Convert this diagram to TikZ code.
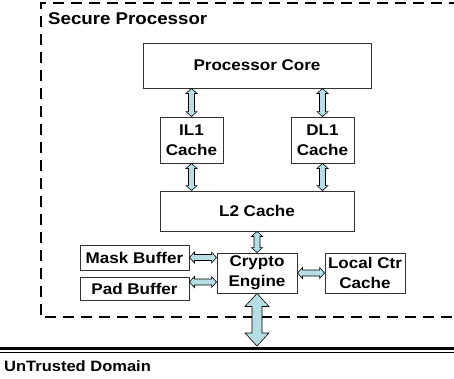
\documentclass[tikz,border=0pt]{standalone}
\usepackage{fontspec}
\setmainfont{Liberation Sans}[FakeStretch=1.1]
\usetikzlibrary{calc}
\definecolor{pipefill}{RGB}{183,222,228}
\definecolor{boxline}{RGB}{50,50,50}

% vertical double-headed block arrow between two anchors (same x)
\newcommand\vpipe[5]{% top, bottom, shaft half width, head half width, head length
  \draw[pipe] let \p1=(#1), \p2=(#2) in
    (\x1,\y1) -- (\x1+#4,\y1-#5) -- (\x1+#3,\y1-#5) -- (\x1+#3,\y2+#5)
    -- (\x1+#4,\y2+#5) -- (\x1,\y2) -- (\x1-#4,\y2+#5) -- (\x1-#3,\y2+#5)
    -- (\x1-#3,\y1-#5) -- (\x1-#4,\y1-#5) -- cycle;}
% horizontal double-headed block arrow between two anchors (same y)
\newcommand\hpipe[5]{% left, right, shaft half width, head half width, head length
  \draw[pipe] let \p1=(#1), \p2=(#2) in
    (\x1,\y1) -- (\x1+#5,\y1+#4) -- (\x1+#5,\y1+#3) -- (\x2-#5,\y1+#3)
    -- (\x2-#5,\y1+#4) -- (\x2,\y1) -- (\x2-#5,\y1-#4) -- (\x2-#5,\y1-#3)
    -- (\x1+#5,\y1-#3) -- (\x1+#5,\y1-#4) -- cycle;}

\begin{document}
\begin{tikzpicture}[x=1pt,y=-1pt,
  unit/.style={draw=boxline, line width=0.9pt, fill=white, inner sep=0pt,
    align=center, font=\fontsize{15.5}{20}\selectfont\bfseries},
  pipe/.style={draw=black, line width=0.6pt, fill=pipefill, line join=miter},
  frame/.style={line width=2pt, dash pattern=on 11pt off 7pt},
  heading/.style={inner sep=0pt, anchor=base west}]
\useasboundingbox (0,0) rectangle (454,378);

% secure boundary
\draw[frame] (460,3) -- (40.5,3) -- (40.5,317) -- (460,317);
\node[heading, font=\fontsize{17}{20}\selectfont\bfseries] (title) at (48,24) {Secure Processor};

% blocks
\node[unit, minimum width=228pt, minimum height=45pt] (core) at (257,65.5) {Processor Core};
\node[unit, minimum width=63pt, minimum height=46pt] (il1) at (191.5,140) {IL1\\Cache};
\node[unit, minimum width=63pt, minimum height=46pt] (dl1) at (322.5,140) {DL1\\Cache};
\node[unit, minimum width=194pt, minimum height=40pt] (l2) at (257,211) {L2 Cache};
\node[unit, minimum width=80pt, minimum height=40pt] (crypto) at (257,273) {Crypto\\Engine};
\node[unit, minimum width=109pt, minimum height=25pt] (mask) at (134.5,257.5) {Mask Buffer};
\node[unit, minimum width=109pt, minimum height=23pt] (pad) at (134.5,288.5) {Pad Buffer};
\node[unit, minimum width=80pt, minimum height=40pt] (ctr) at (365,273) {Local Ctr\\Cache};

% on-chip links
\vpipe{il1.north |- core.south}{il1.north}{3pt}{5.5pt}{5pt}
\vpipe{dl1.north |- core.south}{dl1.north}{3pt}{5.5pt}{5pt}
\vpipe{il1.south}{il1.south |- l2.north}{3pt}{5.5pt}{5pt}
\vpipe{dl1.south}{dl1.south |- l2.north}{3pt}{5.5pt}{5pt}
\vpipe{l2.south}{crypto.north}{3pt}{5.5pt}{5pt}
\hpipe{mask.east}{mask.east -| crypto.west}{3pt}{5.5pt}{5pt}
\coordinate (padlink) at ([yshift=6.5pt]pad.east);
\hpipe{padlink}{padlink -| crypto.west}{3pt}{5.5pt}{5pt}
\hpipe{crypto.east}{ctr.west}{3pt}{5.5pt}{5pt}

% off-chip link
\coordinate (bus) at (257,346);
\vpipe{crypto.south}{bus}{5pt}{12pt}{13pt}

% untrusted boundary
\draw[line width=2.5pt] (0,348.5) -- (454,348.5);
\draw[line width=1pt] (0,352.5) -- (454,352.5);
\node[heading, font=\fontsize{15}{20}\selectfont\bfseries] (untrusted) at (4,371) {UnTrusted Domain};
\end{tikzpicture}
\end{document}
